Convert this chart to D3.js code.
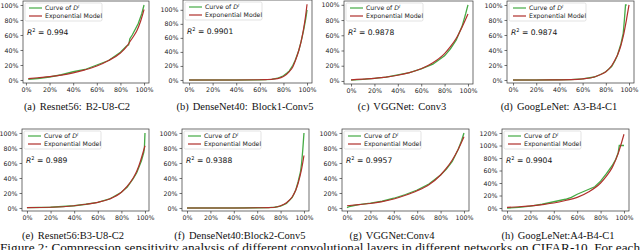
<!DOCTYPE html>
<html><head><meta charset="utf-8">
<script src="https://cdn.jsdelivr.net/npm/d3@7"></script>
<style>body{margin:0;background:#fff}svg{display:block}</style>
</head><body><svg id="c" width="640" height="250"></svg>
<script>
// ---- data ----
const captions = ["(a) Resnet56: B2-U8-C2","(b) DenseNet40: Block1-Conv5","(c) VGGNet: Conv3","(d) GoogLeNet: A3-B4-C1",
                  "(e) Resnet56:B3-U8-C2","(f) DenseNet40:Block2-Conv5","(g) VGGNet:Conv4","(h) GoogLeNet:A4-B4-C1"];
const r2Values = ["0.994","0.9901","0.9878","0.9874","0.989","0.9388","0.9957","0.9904"];
const xTicks = [0,20,40,60,80,100];
const yTicks100 = [0,20,40,60,80,100];
const yTicks120 = [0,20,40,60,80,100,120];
const legendLabels = ["Curve of ","Exponential Model"];
const figureCaption = "Figure 2: Compression sensitivity analysis of different convolutional layers in different networks on CIFAR-10.  For each";

const greenA = [[2,1],[10,2],[20,4],[30,7],[40,11],[50,14],[60,20],[70,26],[80,37],[85,45],[87,47],[88,55],[90,60],[95,75],[98,88],[100,100]];
const redA   = [[2,1.8],[10,3],[20,4.4],[30,6.5],[40,9.5],[50,13.5],[60,18.6],[70,26],[80,36],[85,44],[88,51],[91,58],[94,66],[97,78],[100,94]];
const greenB = [[0,0],[20,0],[40,0],[60,0.3],[70,1],[75,2.5],[80,6],[83,10],[85,13],[88,21],[90,28],[93,42],[95,55],[97,70],[99,88],[100,100]];
const redB   = [[0,0],[20,0],[40,0],[60,0.3],[65,0.6],[70,1],[75,2],[80,5],[85,12],[88,19],[90,27],[93,42],[95,55],[97,72],[99,94],[100,108]];
const greenC = [[0,1],[10,2],[20,3.5],[30,5],[40,8],[50,11],[60,16],[70,22],[80,33],[85,42],[90,54],[95,72],[98,88],[100,100]];
const redC   = [[0,1.5],[10,2.5],[20,3.5],[30,5],[40,7.5],[50,11],[60,16],[70,24],[80,36],[85,45],[90,56],[95,71],[100,88]];
const greenD = [[0,0],[20,0],[40,0.3],[50,0.6],[60,1.5],[70,4],[75,7],[80,11],[85,18],[88,26],[90,33],[93,48],[95,62],[96,80],[97,100],[98,100]];
const redD   = [[0,0],[20,0],[40,0.2],[50,0.5],[60,1.5],[70,4],[75,7],[80,11],[85,19],[88,27],[90,33],[93,46],[95,58],[98,82],[100,100]];
const greenE = [[0,0.5],[20,1],[40,3],[50,5],[60,7.5],[70,12],[80,21],[85,28],[90,39],[93,47],[95,55],[97,63],[99,74],[99.5,80],[100,100]];
const redE   = [[0,0.5],[20,1],[40,3],[50,5],[60,7.5],[70,12],[80,21],[85,29],[90,40],[93,49],[95,57],[98,72],[100,83]];
const greenF = [[0,0],[20,0],[40,0],[60,0.3],[70,0.6],[75,1],[80,2.5],[85,6],[90,14],[93,24],[95,35],[97,48],[98,60],[99,78],[100,100]];
const redF   = [[0,0],[20,0],[40,0],[60,0.3],[70,0.6],[75,1],[80,3],[85,7],[90,15],[93,24],[95,33],[98,52],[100,70]];
const greenG = [[0,0.5],[2,2],[5,3],[10,4.5],[20,6.5],[30,9],[40,13],[50,18],[60,24],[70,32],[80,44],[85,52],[90,62],[95,78],[98,90],[100,100]];
const redG   = [[0,3],[10,4.5],[20,6],[30,8.5],[40,12],[50,17],[60,23],[70,31],[80,44],[85,53],[90,64],[95,78],[100,95]];
const greenH = [[0,0],[10,1],[20,3],[30,6],[40,10],[50,14],[55,17],[60,22],[65,26],[70,30],[75,34],[80,43],[85,55],[90,68],[93,78],[95,88],[96,100],[100,100]];
const redH   = [[0,1],[10,2],[20,3.5],[30,5.5],[40,8],[50,12],[60,17],[70,26],[80,40],[85,51],[90,65],[95,87],[100,118]];

const greens = [greenA,greenB,greenC,greenD,greenE,greenF,greenG,greenH];
const reds   = [redA,redB,redC,redD,redE,redF,redG,redH];
const yTickSets = [yTicks100,yTicks100,yTicks100,yTicks100,yTicks100,yTicks100,yTicks100,yTicks120];

// ---- layout (positions only) ----
const layout = [
  {x0:23,x1:149,y0:1,y1:83,xd:[-2.5,104.2],yd:[-4,105.3],cx:77,cy:110},
  {x0:183,x1:312,y0:0,y1:83,xd:[-5.1,104.2],yd:[-4.3,114],cx:245,cy:110},
  {x0:344,x1:473,y0:1,y1:84,xd:[-6,104.3],yd:[-4,105],cx:402,cy:110},
  {x0:507,x1:634,y0:1,y1:83,xd:[-5.2,104.3],yd:[-4,105.3],cx:559,cy:110},
  {x0:22,x1:149,y0:129,y1:211,xd:[-4.2,103.4],yd:[-4,105.3],cx:73,cy:239},
  {x0:182,x1:309,y0:129,y1:211,xd:[-4.3,104.3],yd:[-4,105.3],cx:240,cy:239},
  {x0:342,x1:469,y0:129,y1:211,xd:[-4.3,104.3],yd:[-4,105.3],cx:392,cy:239},
  {x0:502,x1:629,y0:129,y1:211,xd:[-4.3,104.3],yd:[-4.8,126.4],cx:558,cy:239}
];
const GREEN = "#44aa44", RED = "#b0302c", AX = "#333";

const svg = d3.select("#c");
layout.forEach((L,i) => {
  const g = svg.append("g");
  const x = d3.scaleLinear().domain(L.xd).range([L.x0,L.x1]);
  const y = d3.scaleLinear().domain(L.yd).range([L.y1,L.y0]);
  const clipId = "clip"+i;
  svg.append("clipPath").attr("id",clipId).append("rect")
    .attr("x",L.x0).attr("y",L.y0).attr("width",L.x1-L.x0).attr("height",L.y1-L.y0);
  const line = d3.line().x(d=>x(d[0])).y(d=>y(d[1]));
  const lines = g.append("g").attr("clip-path",`url(#${clipId})`);
  lines.append("path").datum(greens[i]).attr("d",line).attr("fill","none").attr("stroke",GREEN).attr("stroke-width",1.3);
  lines.append("path").datum(reds[i]).attr("d",line.curve(d3.curveMonotoneX)).attr("fill","none").attr("stroke",RED).attr("stroke-width",1.2);

  // frame
  g.append("rect").attr("x",L.x0).attr("y",L.y0).attr("width",L.x1-L.x0).attr("height",L.y1-L.y0)
    .attr("fill","none").attr("stroke",AX).attr("stroke-width",0.7);
  // axes
  const ya = g.append("g").attr("transform",`translate(${L.x0},0)`)
    .call(d3.axisLeft(y).tickValues(yTickSets[i]).tickSize(2.5).tickPadding(2).tickFormat(d=>d+"%"));
  const xa = g.append("g").attr("transform",`translate(0,${L.y1})`)
    .call(d3.axisBottom(x).tickValues(xTicks).tickSize(2.5).tickPadding(2).tickFormat(d=>d+"%"));
  [ya,xa].forEach(a=>{
    a.select(".domain").remove();
    a.selectAll("line").attr("stroke",AX).attr("stroke-width",0.7);
    a.selectAll("text").attr("font-family","DejaVu Sans").attr("font-size",6.3).attr("fill","#222");
  });

  // legend
  const lx = L.x0+2, ly = L.y0+2;
  g.append("rect").attr("x",lx).attr("y",ly).attr("width",77).attr("height",18).attr("rx",1.5)
    .attr("fill","#fff").attr("fill-opacity",0.85).attr("stroke","#d0d0d0").attr("stroke-width",0.6);
  [GREEN,RED].forEach((c,k)=>{
    const yy = ly+5+k*8;
    g.append("line").attr("x1",lx+4).attr("x2",lx+17).attr("y1",yy).attr("y2",yy).attr("stroke",c).attr("stroke-width",1.2);
    const t = g.append("text").attr("x",lx+20).attr("y",yy+2.2).attr("font-family","DejaVu Sans").attr("font-size",6.2).attr("fill","#222");
    t.append("tspan").text(legendLabels[k]);
    if(k===0){
      t.append("tspan").attr("font-style","italic").text("D");
      t.append("tspan").attr("font-style","italic").attr("font-size",4.3).attr("dy",-2.5).text("l");
    }
  });
  // R^2
  const rt = g.append("text").attr("x",L.x0+4).attr("y",L.y0+34).attr("font-family","DejaVu Sans").attr("font-size",7.6).attr("fill","#111");
  rt.append("tspan").attr("font-style","italic").text("R");
  rt.append("tspan").attr("font-size",5).attr("dy",-3).text("2");
  rt.append("tspan").attr("dy",3).text(" = "+r2Values[i]);

  // caption
  svg.append("text").attr("x",L.cx).attr("y",L.cy).attr("text-anchor","middle")
    .attr("font-family","Liberation Serif").attr("font-size",10.5).attr("fill","#111")
    .attr("word-spacing",1.5).text(captions[i]);
});
svg.append("text").attr("x",0).attr("y",252).attr("font-family","Liberation Serif").attr("font-size",12.5)
  .attr("fill","#111").attr("textLength",640).attr("lengthAdjust","spacingAndGlyphs").text(figureCaption);
</script></body></html>
